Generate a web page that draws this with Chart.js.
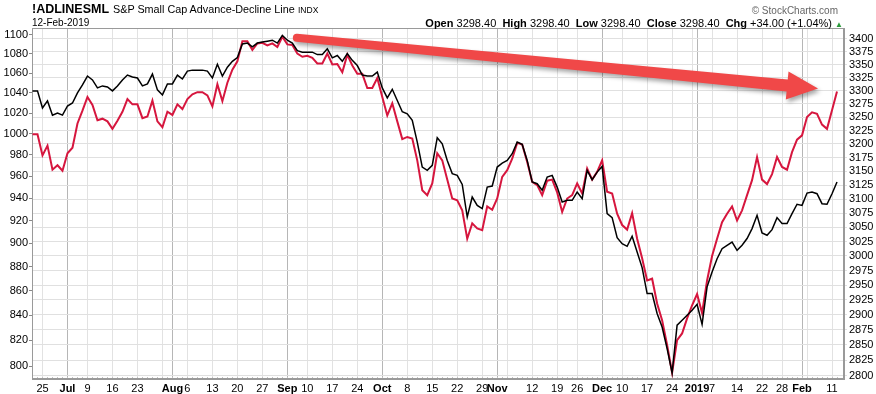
<!DOCTYPE html>
<html>
<head>
<meta charset="utf-8">
<script src="https://cdn.jsdelivr.net/npm/chart.js@4.4.1/dist/chart.umd.min.js"></script>
<style>
  body { margin: 0; background: #fff; }
  #wrap { position: relative; width: 876px; height: 394px; font-family: Arial, 'Liberation Sans', sans-serif; }
  canvas { position: absolute; left: 0; top: 0; }
  .t { position: absolute; white-space: nowrap; line-height: 1; color: #000; }
  .t b { font-weight: bold; }
</style>
</head>
<body>
<div id="wrap">
  <canvas id="chart" width="876" height="394"></canvas>
  <div class="t" style="left:32px;top:3px;font-size:12.5px;font-weight:bold">!ADLINESML</div>
  <div class="t" style="left:113px;top:4px;font-size:10.8px">S&amp;P Small Cap Advance-Decline Line</div>
  <div class="t" style="left:298px;top:5.5px;font-size:8.5px">INDX</div>
  <div class="t" style="left:32px;top:18px;font-size:10px">12-Feb-2019</div>
  <div class="t" style="right:38px;top:6px;font-size:10px;color:#666">&copy; StockCharts.com</div>
  <div class="t" style="right:33px;top:17.5px;font-size:11px">
    <b>Open</b> 3298.40&nbsp; <b>High</b> 3298.40&nbsp; <b>Low</b> 3298.40&nbsp; <b>Close</b> 3298.40&nbsp; <b>Chg</b> +34.00 (+1.04%) <span style="color:#2a9a3a;font-size:8px">&#9650;</span>
  </div>
</div>
<script>
// trading days, Jun 21 2018 .. Feb 12 2019
const jun = [21, 22, 25, 26, 27, 28, 29];
const jul = [2, 3, 5, 6, 9, 10, 11, 12, 13, 16, 17, 18, 19, 20, 23, 24, 25, 26, 27, 30, 31];
const aug = [1, 2, 3, 6, 7, 8, 9, 10, 13, 14, 15, 16, 17, 20, 21, 22, 23, 24, 27, 28, 29, 30, 31];
const sep = [4, 5, 6, 7, 10, 11, 12, 13, 14, 17, 18, 19, 20, 21, 24, 25, 26, 27, 28];
const oct = [1, 2, 3, 4, 5, 8, 9, 10, 11, 12, 15, 16, 17, 18, 19, 22, 23, 24, 25, 26, 29, 30, 31];
const nov = [1, 2, 5, 6, 7, 8, 9, 12, 13, 14, 15, 16, 19, 20, 21, 23, 26, 27, 28, 29, 30];
const dec = [3, 4, 6, 7, 10, 11, 12, 13, 14, 17, 18, 19, 20, 21, 24, 26, 27, 28, 31];
const jan = [2, 3, 4, 7, 8, 9, 10, 11, 14, 15, 16, 17, 18, 22, 23, 24, 25, 28, 29, 30, 31];
const feb = [1, 4, 5, 6, 7, 8, 11, 12];

const dates = [].concat(
  jun.map(d => 'Jun ' + d), jul.map(d => 'Jul ' + d), aug.map(d => 'Aug ' + d),
  sep.map(d => 'Sep ' + d), oct.map(d => 'Oct ' + d), nov.map(d => 'Nov ' + d),
  dec.map(d => 'Dec ' + d), jan.map(d => 'Jan ' + d), feb.map(d => 'Feb ' + d)
);

// S&P 600 small cap index (black, left axis)
const sml = [
  1042, 1042, 1025, 1032, 1018, 1020, 1018, 1027, 1030, 1040,
  1048, 1057, 1053, 1045, 1047, 1046, 1042, 1047, 1053, 1058,
  1056, 1055, 1047, 1049, 1059, 1043, 1038, 1049, 1049, 1058,
  1054, 1062, 1063, 1063, 1063, 1062, 1055, 1069, 1057, 1066,
  1072, 1076, 1090, 1091, 1087, 1091, 1092, 1093, 1094, 1091,
  1099, 1094, 1091, 1083, 1081.5, 1081.5, 1081.5, 1079, 1079, 1085,
  1075.6, 1078, 1072, 1080, 1073, 1067.7, 1058, 1057, 1057, 1061,
  1045, 1035, 1043.6, 1032.5, 1021.3, 1019.3, 1013, 992, 968.5, 965.4,
  970.1, 996.2, 990.4, 974.7, 962.4, 960.8, 952.5, 923.1, 941, 933.5,
  930.6, 950.1, 951, 968.5, 972.2, 974.7, 981, 992, 989.8, 974.7,
  954.7, 953.1, 947.1, 959.2, 960.8, 950, 936.5, 938, 938, 945.5,
  939.5, 965.4, 956.8, 963.8, 969.1, 926.1, 922.6, 905, 899.8, 897.5,
  906.2, 892.6, 879.3, 857.7, 857.7, 841.4, 830.6, 813.6, 794.8, 832,
  836, 840, 844, 848.9, 832.7, 863.2, 875.6, 886.9, 895.5, 898.4,
  901.2, 894.1, 898.4, 904.2, 912.9, 924.6, 909.1, 907.1, 912, 922.6,
  917.3, 917.3, 926.1, 934.5, 933.5, 944.6, 945.5, 944, 935, 934.5,
  944, 954.7
];

// !ADLINESML advance-decline line (red, right axis)
const adLine = [
  3218, 3218, 3179, 3197, 3153, 3161, 3151, 3183, 3193, 3238,
  3262, 3288, 3273, 3244, 3247, 3242, 3228, 3243, 3260, 3284,
  3274, 3274, 3248, 3251, 3281, 3242, 3231, 3260, 3254, 3274,
  3265, 3284, 3293, 3297, 3297, 3291, 3270, 3312, 3280, 3315,
  3340, 3356, 3395, 3395, 3378, 3391, 3392, 3387, 3391, 3384,
  3404, 3389, 3388, 3371, 3365, 3367, 3363, 3352, 3352, 3371,
  3350, 3351, 3335, 3369, 3348, 3332, 3332, 3305, 3305, 3324,
  3288, 3253, 3276, 3242, 3209, 3213, 3210, 3170, 3116, 3107,
  3128, 3183, 3170, 3135, 3101, 3098, 3080, 3030, 3057, 3048,
  3045, 3087, 3081, 3101, 3140, 3152, 3173, 3202, 3199, 3167,
  3131, 3125, 3107, 3133, 3135, 3112, 3077, 3101, 3107, 3128,
  3110, 3155, 3135, 3149, 3170, 3113, 3110, 3074, 3054, 3046,
  3075, 3030, 2996, 2958, 2961, 2919, 2891, 2850, 2805, 2858,
  2869, 2894, 2916, 2935, 2903, 2958, 3000, 3030, 3059, 3074,
  3087, 3062, 3080, 3107, 3134, 3176, 3135, 3127, 3145, 3176,
  3158, 3153, 3185, 3208, 3216, 3250, 3259, 3256, 3236, 3228,
  3263, 3298.4
];

// x axis: weekly grid lines, month starts in bold
const tickDates = ['Jun 25', 'Jul 2', 'Jul 9', 'Jul 16', 'Jul 23', 'Jul 30', 'Aug 1', 'Aug 6', 'Aug 13', 'Aug 20',
  'Aug 27', 'Sep 4', 'Sep 10', 'Sep 17', 'Sep 24', 'Oct 1', 'Oct 8', 'Oct 15', 'Oct 22', 'Oct 29',
  'Nov 1', 'Nov 5', 'Nov 12', 'Nov 19', 'Nov 26', 'Dec 3', 'Dec 10', 'Dec 17', 'Dec 24', 'Dec 31',
  'Jan 2', 'Jan 7', 'Jan 14', 'Jan 22', 'Jan 28', 'Feb 1', 'Feb 4', 'Feb 11'];
const tickText = ['25', 'Jul', '9', '16', '23', '', 'Aug', '6', '13', '20',
  '27', 'Sep', '10', '17', '24', 'Oct', '8', '15', '22', '29',
  'Nov', '', '12', '19', '26', 'Dec', '10', '17', '24', '',
  '2019', '7', '14', '22', '28', 'Feb', '', '11'];
const monthTicks = ['Jul', 'Aug', 'Sep', 'Oct', 'Nov', 'Dec', '2019', 'Feb'];

const leftTicks = [800, 820, 840, 860, 880, 900, 920, 940, 960, 980, 1000, 1020, 1040, 1060, 1080, 1100];
const rightTicks = [2800, 2825, 2850, 2875, 2900, 2925, 2950, 2975, 3000, 3025, 3050, 3075, 3100,
  3125, 3150, 3175, 3200, 3225, 3250, 3275, 3300, 3325, 3350, 3375, 3400];

// trend arrow anchors: [date index, right-axis value]
const arrowFrom = [52.9, 3402];
const arrowTo = [157.2, 3304];

const font = 'Arial, "Liberation Sans", sans-serif';
const tickIdx = tickDates.map(d => dates.indexOf(d));

const frame = {
  id: 'frame',
  beforeDatasetsDraw(chart) {
    const { ctx, chartArea: a, scales } = chart;
    ctx.save();
    // daily tick dots along the bottom edge
    ctx.fillStyle = '#c4c4c4';
    dates.forEach((d, i) => {
      const x = Math.round(scales.x.getPixelForValue(i));
      ctx.fillRect(x, Math.round(a.bottom) - 2, 1, 2);
    });
    ctx.strokeStyle = '#9a9a9a';
    ctx.lineWidth = 1;
    ctx.strokeRect(Math.round(a.left) + 0.5, Math.round(a.top) + 0.5, Math.round(a.right - a.left) - 1, Math.round(a.bottom - a.top) - 1);
    ctx.restore();
  }
};

const trendArrow = {
  id: 'trendArrow',
  afterDatasetsDraw(chart) {
    const { ctx, scales } = chart;
    const x0 = scales.x.getPixelForValue(arrowFrom[0]);
    const y0 = scales.yR.getPixelForValue(arrowFrom[1]);
    const x1 = scales.x.getPixelForValue(arrowTo[0]);
    const y1 = scales.yR.getPixelForValue(arrowTo[1]);
    const len = Math.hypot(x1 - x0, y1 - y0);
    const head = 31, hw = 14;
    ctx.save();
    ctx.translate(x0, y0);
    ctx.rotate(Math.atan2(y1 - y0, x1 - x0));
    ctx.shadowColor = 'rgba(0,0,0,0.35)';
    ctx.shadowBlur = 4;
    ctx.shadowOffsetX = 2;
    ctx.shadowOffsetY = 3;
    ctx.fillStyle = '#f04848';
    ctx.beginPath();
    ctx.moveTo(0, -4);
    ctx.lineTo(len - head, -6);
    ctx.lineTo(len - head, -hw);
    ctx.lineTo(len, 0);
    ctx.lineTo(len - head, hw);
    ctx.lineTo(len - head, 6);
    ctx.lineTo(0, 4);
    ctx.arc(0, 0, 4, Math.PI / 2, -Math.PI / 2);
    ctx.closePath();
    ctx.fill();
    ctx.restore();
  }
};

new Chart(document.getElementById('chart'), {
  type: 'line',
  data: {
    datasets: [
      {
        label: 'S&P 600',
        data: sml.map((v, i) => ({ x: i, y: v })),
        yAxisID: 'yL',
        borderColor: '#000',
        borderWidth: 1.5,
        pointRadius: 0,
        tension: 0
      },
      {
        label: '!ADLINESML',
        data: adLine.map((v, i) => ({ x: i, y: v })),
        yAxisID: 'yR',
        borderColor: '#d6163e',
        borderWidth: 2,
        pointRadius: 0,
        tension: 0
      }
    ]
  },
  options: {
    responsive: false,
    animation: false,
    devicePixelRatio: 1,
    layout: { padding: { top: 28, left: 0, right: 0, bottom: 0 } },
    plugins: { legend: { display: false }, tooltip: { enabled: false } },
    scales: {
      x: {
        type: 'linear',
        min: -0.1,
        max: 162.4,
        bounds: 'data',
        afterBuildTicks: a => { a.ticks = tickIdx.map(v => ({ value: v })); },
        afterFit: a => { a.height = 15; },
        grid: {
          color: c => monthTicks.includes(tickText[c.index]) ? '#b6b6b6' : '#e2e2e2',
          drawTicks: false
        },
        border: { color: '#9a9a9a' },
        ticks: {
          autoSkip: false,
          maxRotation: 0,
          padding: 3,
          color: '#000',
          font: c => ({ family: font, size: 11, weight: monthTicks.includes(tickText[c.index]) ? 'bold' : 'normal' }),
          callback: (v, i) => tickText[i]
        }
      },
      yL: {
        type: 'logarithmic',
        position: 'left',
        min: 790.1,
        max: 1106.9,
        bounds: 'data',
        afterBuildTicks: a => { a.ticks = leftTicks.map(v => ({ value: v })); },
        afterFit: a => { a.width = 32; },
        grid: { drawOnChartArea: false, tickLength: 3, color: '#888' },
        border: { color: '#9a9a9a' },
        ticks: { autoSkip: false, padding: 1, color: '#000', font: { family: font, size: 11 }, callback: v => String(v) }
      },
      yR: {
        type: 'logarithmic',
        position: 'right',
        min: 2794.7,
        max: 3421.2,
        bounds: 'data',
        afterBuildTicks: a => { a.ticks = rightTicks.map(v => ({ value: v })); },
        afterFit: a => { a.width = 32; },
        grid: { color: '#e0e0e0', tickLength: 3 },
        border: { color: '#9a9a9a' },
        ticks: { autoSkip: false, padding: 2, color: '#000', font: { family: font, size: 11 }, callback: v => String(v) }
      }
    }
  },
  plugins: [frame, trendArrow]
});
</script>
</body>
</html>
